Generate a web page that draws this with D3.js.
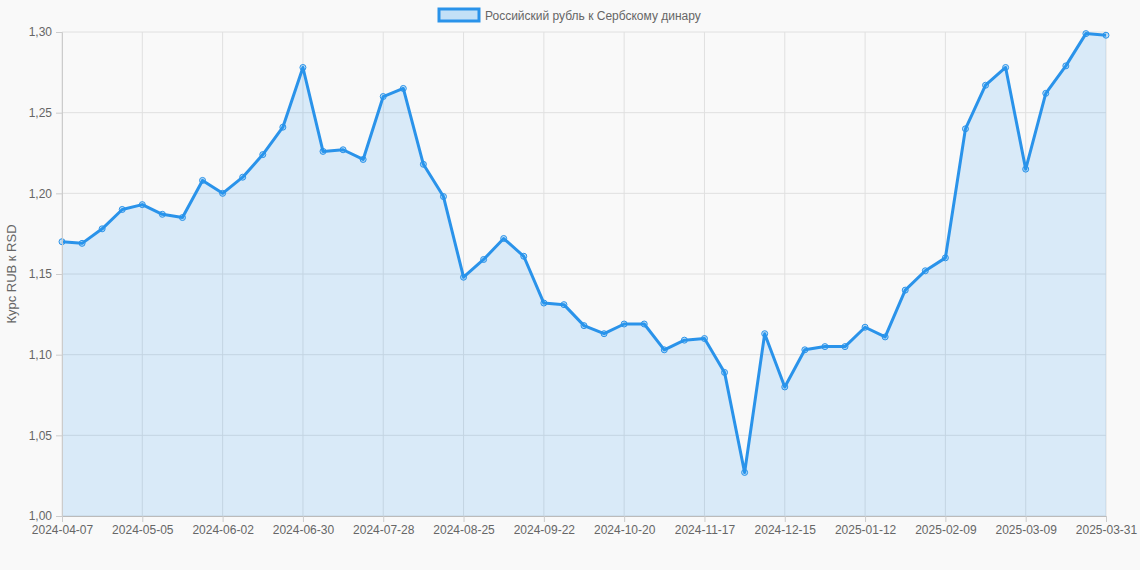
<!DOCTYPE html>
<html>
<head>
<meta charset="utf-8">
<script src="https://cdn.jsdelivr.net/npm/d3@7"></script>
<style>
  body { margin: 0; background: #f9f9f9; }
  text { font-family: "Liberation Sans", Arial, sans-serif; }
</style>
</head>
<body>
<svg id="chart" width="1140" height="570"></svg>
<script>
'use strict';

var seriesName = 'Российский рубль к Сербскому динару';
var axisTitle = 'Курс RUB к RSD';

var dates = [];
(function() {
  var start = new Date(Date.UTC(2024, 3, 7));
  for (var i = 0; i < 52; i++) {
    dates.push(new Date(start.getTime() + i * 7 * 864e5).toISOString().slice(0, 10));
  }
  dates.push('2025-03-31');
})();

var rates = [
  1.170, 1.169, 1.178, 1.190, 1.193, 1.187, 1.185, 1.208, 1.200, 1.210,
  1.224, 1.241, 1.278, 1.226, 1.227, 1.221, 1.260, 1.265, 1.218, 1.198,
  1.148, 1.159, 1.172, 1.161, 1.132, 1.131, 1.118, 1.113, 1.119, 1.119,
  1.103, 1.109, 1.110, 1.089, 1.027, 1.113, 1.080, 1.103, 1.105, 1.105,
  1.117, 1.111, 1.140, 1.152, 1.160, 1.240, 1.267, 1.278, 1.215, 1.262,
  1.279, 1.299, 1.298
];

var yTicks = [1.00, 1.05, 1.10, 1.15, 1.20, 1.25, 1.30];

var margin = {top: 32, right: 34, bottom: 54, left: 62},
    width = 1140, height = 570,
    innerW = width - margin.left - margin.right,
    innerH = height - margin.top - margin.bottom;

var svg = d3.select('#chart');
var g = svg.append('g').attr('transform', 'translate(' + [margin.left, margin.top] + ')');

var x = d3.scalePoint().domain(dates).range([0, innerW]);
var y = d3.scaleLinear().domain([1.0, 1.3]).range([innerH, 0]);
var fmt = function(d) { return d3.format('.2f')(d).replace('.', ','); };

var xTickVals = dates.filter(function(d, i) { return i % 4 === 0 || i === dates.length - 1; })
  .filter(function(d, i, a) { return d !== '2025-03-30'; });

// grid
g.append('g').selectAll('line').data(yTicks).enter().append('line')
  .attr('x1', 0).attr('x2', innerW)
  .attr('y1', y).attr('y2', y)
  .attr('stroke', '#e0e0e0');
g.append('g').selectAll('line').data(xTickVals).enter().append('line')
  .attr('x1', x).attr('x2', x)
  .attr('y1', 0).attr('y2', innerH)
  .attr('stroke', '#e0e0e0');

var data = dates.map(function(d, i) { return {d: d, v: rates[i]}; });

g.append('path').datum(data)
  .attr('fill', 'rgba(33,150,243,0.15)')
  .attr('d', d3.area().x(function(p) { return x(p.d); }).y0(innerH).y1(function(p) { return y(p.v); }));

g.append('path').datum(data)
  .attr('fill', 'none').attr('stroke', '#2a93ea').attr('stroke-width', 3)
  .attr('stroke-linejoin', 'round')
  .attr('d', d3.line().x(function(p) { return x(p.d); }).y(function(p) { return y(p.v); }));

g.append('g').selectAll('circle').data(data).enter().append('circle')
  .attr('cx', function(p) { return x(p.d); })
  .attr('cy', function(p) { return y(p.v); })
  .attr('r', 3).attr('fill', 'rgba(33,150,243,0.25)')
  .attr('stroke', '#2a93ea').attr('stroke-width', 1);

// axes
var xAxis = g.append('g').attr('transform', 'translate(0,' + innerH + ')')
  .call(d3.axisBottom(x).tickValues(xTickVals).tickSize(6).tickPadding(3));
var yAxis = g.append('g')
  .call(d3.axisLeft(y).tickValues(yTicks).tickFormat(fmt).tickSize(6).tickPadding(4));
[xAxis, yAxis].forEach(function(a) {
  a.selectAll('path, line').attr('stroke', '#ccc');
  a.selectAll('text').attr('fill', '#666').style('font-size', '12px')
    .style('font-family', '"Liberation Sans", Arial, sans-serif');
});
xAxis.select('.domain').attr('stroke', '#bbb');

svg.append('text')
  .attr('transform', 'translate(16,' + (margin.top + innerH / 2) + ') rotate(-90)')
  .attr('text-anchor', 'middle').attr('fill', '#666').style('font-size', '13px')
  .text(axisTitle);

// legend
var leg = svg.append('g').attr('transform', 'translate(439,9)');
leg.append('rect').attr('width', 40).attr('height', 12)
  .attr('fill', 'rgba(33,150,243,0.25)').attr('stroke', '#2a93ea').attr('stroke-width', 3);
leg.append('text').attr('x', 46).attr('y', 10.5).attr('fill', '#666')
  .style('font-size', '12px').text(seriesName);
</script>
</body>
</html>
